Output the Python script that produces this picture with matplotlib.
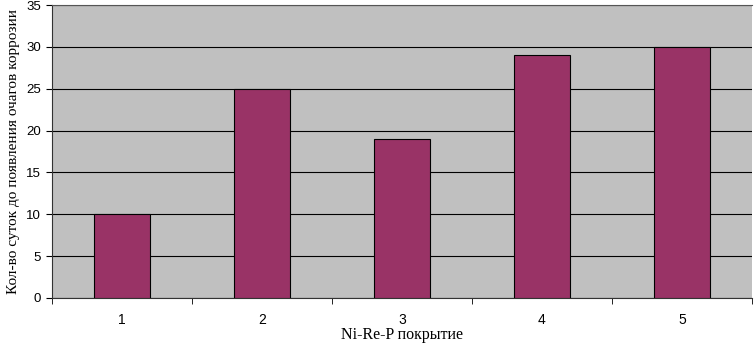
import matplotlib.pyplot as plt
import numpy as np

categories = ['1', '2', '3', '4', '5']
days = [10, 25, 19, 29, 30]

fig = plt.figure(figsize=(7.54, 3.44), dpi=100)
ax = fig.add_axes([52 / 754, 46 / 344, 700 / 754, 293 / 344])
ax.set_facecolor('#c0c0c0')

x = np.arange(len(categories))
ax.bar(x, days, width=0.4, color='#993366', edgecolor='black', linewidth=0.8, zorder=3)

ax.set_xlim(-0.5, len(categories) - 0.5)
ax.set_ylim(0, 35)
ax.set_yticks(np.arange(0, 36, 5))
ax.yaxis.grid(True, color='black', linewidth=0.8, zorder=0)

ax.set_xticks(x)
ax.set_xticklabels(categories, fontfamily='Liberation Sans', fontsize=10)
ax.tick_params(axis='x', length=0, pad=11)
ax.set_xticks(np.arange(-0.5, len(categories)), minor=True)
ax.tick_params(axis='x', which='minor', length=4, direction='out')
for lbl in ax.get_yticklabels():
    lbl.set_fontfamily('Liberation Sans')
    lbl.set_fontsize(9.5)
ax.tick_params(axis='y', length=4, direction='out', pad=4)

ax.spines['right'].set_visible(False)
ax.spines['top'].set_color('#555555')
ax.spines['left'].set_color('#333333')
ax.spines['bottom'].set_color('#333333')

ax.set_xlabel('Ni-Re-P покрытие', fontfamily='Liberation Serif', fontsize=11.5, labelpad=0)
ax.set_ylabel('Кол-во суток до появления очагов коррозии', fontfamily='Liberation Serif',
              fontsize=11, labelpad=4)

fig.savefig('out.png', dpi=100)
